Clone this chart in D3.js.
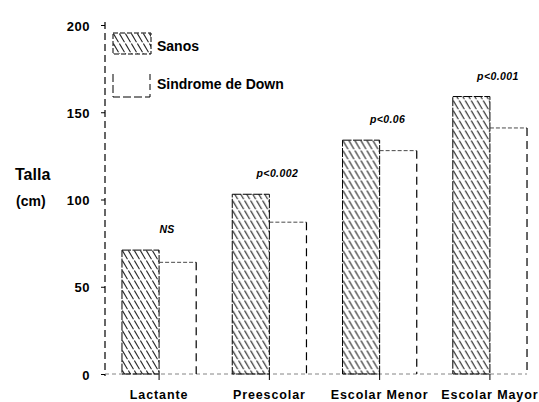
<!DOCTYPE html>
<html>
<head>
<meta charset="utf-8">
<script src="https://cdn.jsdelivr.net/npm/d3@7"></script>
<style>
  body { margin: 0; background: #fff; }
  svg { display: block; font-family: "Liberation Sans", Arial, Helvetica, sans-serif; }
  .tick text { font-weight: bold; fill: #000; }
</style>
</head>
<body>
<div id="chart"></div>
<script>
// chart data
var categories = ["Lactante", "Preescolar", "Escolar Menor", "Escolar Mayor"];
var sanos = [71, 103, 134, 159];
var down = [64, 87, 128, 141];
var pLabels = ["NS", "p<0.002", "p<0.06", "p<0.001"];
var yTicks = [0, 50, 100, 150, 200];
var seriesNames = ["Sanos", "Sindrome de Down"];

var svgWidth = 539;
var svgHeight = 402;
var ink = "#000";

var axisX = 105;
var baseY = 374;
var topY = 25;

var svg = d3.select("#chart")
    .append("svg")
    .attr("width", svgWidth)
    .attr("height", svgHeight);

// hatch pattern for the "Sanos" bars
var defs = svg.append("defs");
var hatch = defs.append("pattern")
    .attr("id", "hatch")
    .attr("patternUnits", "userSpaceOnUse")
    .attr("width", 6)
    .attr("height", 10);
hatch.append("path")
    .attr("d", "M0.4,0.6 L5.5,9.2")
    .attr("stroke", "#222")
    .attr("stroke-width", 1.1);

// scales
var yScale = d3.scaleLinear()
    .domain([0, 200])
    .range([baseY, topY]);

var x0 = d3.scaleBand()
    .domain(categories)
    .range([axisX, 544])
    .paddingInner(0.327)
    .paddingOuter(0.154);

var x1 = d3.scaleBand()
    .domain(seriesNames)
    .range([0, x0.bandwidth()]);

// y axis
var leftAxis = d3.axisLeft(yScale)
    .tickValues(yTicks)
    .tickSize(4)
    .tickPadding(11);

var yAxis = svg.append("g")
    .attr("transform", `translate(${axisX}, 0)`)
    .call(leftAxis);
yAxis.select(".domain").remove();
yAxis.selectAll(".tick line").attr("stroke", ink);
yAxis.selectAll(".tick text")
    .style("font-size", "13px")
    .attr("dy", "0.4em")
    .attr("letter-spacing", "0.5px");

// dashed axis line
svg.append("line")
    .attr("x1", axisX).attr("x2", axisX)
    .attr("y1", yScale(200) - 3).attr("y2", baseY + 2)
    .attr("stroke", ink)
    .attr("stroke-width", 1.2)
    .attr("stroke-dasharray", "7,4");

// faint baseline
svg.append("line")
    .attr("x1", axisX).attr("x2", x0(categories[3]) + x0.bandwidth())
    .attr("y1", baseY).attr("y2", baseY)
    .attr("stroke", "#666")
    .attr("stroke-width", 0.8)
    .attr("stroke-dasharray", "4,3");

// x axis
var bottomAxis = d3.axisBottom(x0)
    .tickSize(6)
    .tickPadding(10);

var xAxis = svg.append("g")
    .attr("transform", `translate(0, ${baseY})`)
    .call(bottomAxis);
xAxis.select(".domain").remove();
xAxis.selectAll(".tick line").attr("stroke", ink);
xAxis.selectAll(".tick text")
    .style("font-size", "12.5px")
    .attr("letter-spacing", "0.9px");

// bars
var groups = svg.selectAll(".group")
    .data(categories)
    .enter()
    .append("g")
    .attr("class", "group")
    .attr("transform", d => `translate(${x0(d)}, 0)`);

groups.append("rect")
    .attr("x", x1("Sanos"))
    .attr("y", (d, i) => yScale(sanos[i]))
    .attr("width", x1.bandwidth())
    .attr("height", (d, i) => baseY - yScale(sanos[i]))
    .attr("fill", "url(#hatch)")
    .attr("stroke", ink)
    .attr("stroke-width", 1)
    .attr("stroke-dasharray", "9,1.5");

// Down bars: dotted top edge and dashed right edge
groups.append("path")
    .attr("d", (d, i) => {
        var xa = x1("Sindrome de Down");
        var xb = xa + x1.bandwidth();
        return `M${xa},${yScale(down[i])} L${xb},${yScale(down[i])}`;
    })
    .attr("fill", "none")
    .attr("stroke", "#333")
    .attr("stroke-width", 0.9)
    .attr("stroke-dasharray", "4,2");

groups.append("path")
    .attr("d", (d, i) => {
        var xb = x1("Sindrome de Down") + x1.bandwidth();
        return `M${xb},${yScale(down[i])} L${xb},${baseY}`;
    })
    .attr("fill", "none")
    .attr("stroke", ink)
    .attr("stroke-width", 1.2)
    .attr("stroke-dasharray", "8,5");

// significance labels
groups.append("text")
    .attr("x", x0.bandwidth() / 2 + 8)
    .attr("y", (d, i) => yScale(sanos[i]) - 17)
    .attr("text-anchor", "middle")
    .style("font-size", "10.5px")
    .style("font-weight", "bold")
    .style("font-style", "italic")
    .attr("letter-spacing", "0.4px")
    .attr("fill", ink)
    .text((d, i) => pLabels[i]);

// y axis title
svg.append("text")
    .attr("x", 15)
    .attr("y", 180)
    .style("font-size", "16px")
    .style("font-weight", "bold")
    .attr("fill", ink)
    .text("Talla");

svg.append("text")
    .attr("x", 16)
    .attr("y", 206)
    .style("font-size", "14px")
    .style("font-weight", "bold")
    .attr("fill", ink)
    .text("(cm)");

// legend
var legend = svg.append("g")
    .attr("transform", "translate(113, 33)");

legend.append("rect")
    .attr("x", 0).attr("y", 0)
    .attr("width", 38).attr("height", 21)
    .attr("fill", "url(#hatch)")
    .attr("stroke", ink)
    .attr("stroke-width", 1)
    .attr("stroke-dasharray", "5,2");

legend.append("path")
    .attr("d", "M0,41 L0,64 L37,64")
    .attr("fill", "none")
    .attr("stroke", ink)
    .attr("stroke-width", 1)
    .attr("stroke-dasharray", "8,3");

legend.append("path")
    .attr("d", "M37,41 L37,64")
    .attr("fill", "none")
    .attr("stroke", ink)
    .attr("stroke-width", 1)
    .attr("stroke-dasharray", "6,4");

legend.selectAll(".legend-text")
    .data(seriesNames)
    .enter()
    .append("text")
    .attr("class", "legend-text")
    .attr("x", 44)
    .attr("y", (d, i) => 18 + i * 38)
    .style("font-size", "14px")
    .style("font-weight", "bold")
    .attr("fill", ink)
    .text(d => d);
</script>
</body>
</html>
